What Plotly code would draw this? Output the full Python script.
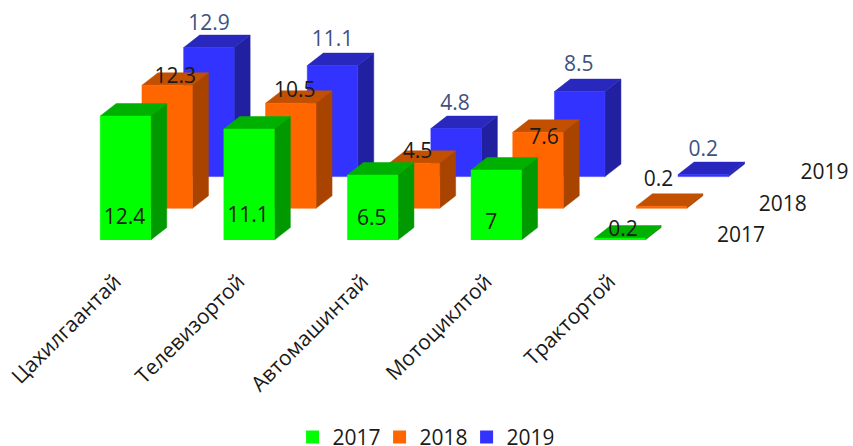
import plotly.graph_objects as go

categories = ["Цахилгаантай", "Телевизортой", "Автомашинтай", "Мотоциклтой", "Трактортой"]
series_names = ["2017", "2018", "2019"]
values_2017 = [12.4, 11.1, 6.5, 7, 0.2]
values_2018 = [12.3, 10.5, 4.5, 7.6, 0.2]
values_2019 = [12.9, 11.1, 4.8, 8.5, 0.2]
all_values = [values_2017, values_2018, values_2019]

front_colors = ["#00FF00", "#FF6600", "#3333FF"]
side_colors = ["#009A00", "#A84400", "#2020A0"]
top_colors = ["#00B000", "#C25000", "#2828BE"]
label_colors = ["#1a1a1a", "#1a1a1a", "#3D5280"]

W, H = 853, 446
BASE_PX = 240
TOP_PAD = 0
FONT = "Open Sans"
FS = 21

PX_X = 123.6
PX_Y = 10.0
x0_px = 125.5
BAR_W = 50.5 / PX_X
DEPTH_X = 16 / PX_X
DEPTH_Y = 12.5 / PX_Y
ROW_X = 41.7 / PX_X
ROW_Y = 31.7 / PX_Y
TICK_SHIFT = 10.5 / PX_X

label_dx = [[-1, -1, -1, -5, 3], [8, 4, 3, 6, -3], [0, 0, -1, -1, 0]]
label_dy = [[-103, -88, -45, -54, 7], [8, 12, 11, -6, 26], [23, 25, 24, 26, 24]]

fig = go.Figure()

def poly(xs, ys, color):
    fig.add_trace(go.Scatter(x=xs, y=ys, mode="lines", fill="toself", fillcolor=color, cliponaxis=False,
                             line=dict(color=color, width=0.5), hoverinfo="skip", showlegend=False))

for s in [2, 1, 0]:
    ox, oy = s * ROW_X, s * ROW_Y
    for i, v in enumerate(all_values[s]):
        l = i - BAR_W / 2 + ox
        r = i + BAR_W / 2 + ox
        b, t = oy, oy + v
        poly([r, r + DEPTH_X, r + DEPTH_X, r, r], [b, b + DEPTH_Y, t + DEPTH_Y, t, b], side_colors[s])
        poly([l, l + DEPTH_X, r + DEPTH_X, r, l], [t, t + DEPTH_Y, t + DEPTH_Y, t, t], top_colors[s])
        poly([l, r, r, l, l], [b, b, t, t, b], front_colors[s])

for s in [2, 1, 0]:
    ox, oy = s * ROW_X, s * ROW_Y
    xs = [i + ox + label_dx[s][i] / PX_X for i in range(5)]
    ys = [oy + v + label_dy[s][i] / PX_Y for i, v in enumerate(all_values[s])]
    fig.add_trace(go.Scatter(x=xs, y=ys, mode="text", text=[str(v) for v in all_values[s]], cliponaxis=False,
                             textposition="middle center", hoverinfo="skip", showlegend=False,
                             textfont=dict(family=FONT, size=FS, color=label_colors[s])))
    fig.add_trace(go.Scatter(x=[4.98 + ox], y=[oy + 0.3], mode="text", text=[series_names[s]], cliponaxis=False,
                             textposition="middle center", hoverinfo="skip", showlegend=False,
                             textfont=dict(family=FONT, size=FS, color="#1a1a1a")))

for s in range(3):
    fig.add_trace(go.Scatter(x=[None], y=[None], mode="markers", name=series_names[s],
                             marker=dict(symbol="square", size=13, color=front_colors[s])))

fig.update_layout(
    width=W, height=H, autosize=False,
    margin=dict(l=0, r=0, t=TOP_PAD, b=H - BASE_PX - TOP_PAD, autoexpand=False),
    paper_bgcolor="white", plot_bgcolor="white",
    font=dict(family=FONT, size=FS, color="#1a1a1a"),
    xaxis=dict(range=[-x0_px / PX_X, (W - x0_px) / PX_X], tickmode="array", automargin=False,
               tickvals=[i - TICK_SHIFT for i in range(5)], ticktext=categories, tickangle=-45,
               showgrid=False, zeroline=False, showline=False, ticks="outside", ticklen=20,
               tickcolor="rgba(0,0,0,0)", tickfont=dict(family=FONT, size=21, color="#1a1a1a")),
    yaxis=dict(range=[0, BASE_PX / PX_Y], visible=False),
    legend=dict(orientation="h", x=0.496, xanchor="center", y=-0.822, yanchor="middle",
                font=dict(family=FONT, size=FS, color="#1a1a1a"), itemwidth=30,
                entrywidth=42, entrywidthmode="pixels", bgcolor="rgba(0,0,0,0)"),
)
fig.write_html("out.html", config={"displayModeBar": False},
               post_script="document.documentElement.style.overflow='hidden';document.body.style.margin='0';")
